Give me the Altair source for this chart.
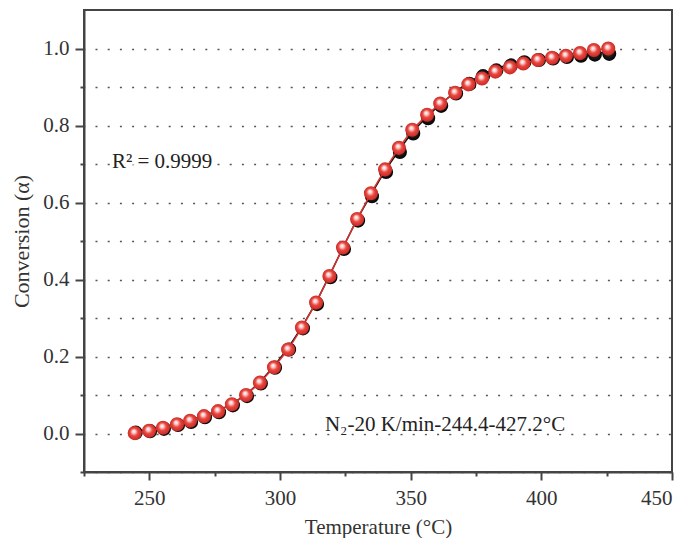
import altair as alt
import pandas as pd

# Temperature (°C)
temperature = [244.4, 249.9, 255.2, 260.6, 265.6, 270.9, 276.3, 281.6, 287.0, 292.3,
               297.7, 303.1, 308.4, 313.8, 318.9, 324.1, 329.5, 334.8, 340.2, 345.5,
               350.6, 356.3, 361.3, 367.0, 372.1, 377.3, 382.4, 388.0, 393.1, 398.7,
               404.1, 409.4, 414.8, 420.1, 425.6]
# experimental conversion (black spheres)
alpha_exp = [0.006, 0.010, 0.016, 0.026, 0.034, 0.046, 0.059, 0.077, 0.101, 0.134,
             0.175, 0.222, 0.277, 0.340, 0.410, 0.483, 0.557, 0.620, 0.683, 0.735,
             0.783, 0.823, 0.855, 0.887, 0.912, 0.932, 0.947, 0.960, 0.968, 0.974,
             0.978, 0.982, 0.985, 0.988, 0.990]
# fitted conversion (red spheres)
alpha_fit = [0.001, 0.007, 0.015, 0.024, 0.033, 0.045, 0.058, 0.076, 0.100, 0.132,
             0.172, 0.218, 0.275, 0.340, 0.409, 0.483, 0.557, 0.624, 0.686, 0.742,
             0.789, 0.828, 0.857, 0.885, 0.907, 0.922, 0.940, 0.951, 0.961, 0.970,
             0.976, 0.981, 0.988, 0.996, 1.000]

x_major = [250, 300, 350, 400, 450]
x_minor = [225, 275, 325, 375, 425]
y_major = [0.0, 0.2, 0.4, 0.6, 0.8, 1.0]
y_minor = [-0.1, 0.1, 0.3, 0.5, 0.7, 0.9]

ann_text = ["R² = 0.9999", "N₂-20 K/min-244.4-427.2°C"]
ann_x = [235.7, 317.2]
ann_y = [0.705, 0.023]

FONT = "Liberation Serif"
AX = "#444444"
FS = 21

df = pd.DataFrame({"T": temperature, "exp": alpha_exp, "fit": alpha_fit})
ann = pd.DataFrame({"x": ann_x, "y": ann_y, "t": ann_text})

xs = alt.Scale(domain=[225, 450], nice=False, zero=False)
ys = alt.Scale(domain=[-0.1, 1.1], nice=False, zero=False)

common_axis = dict(domainColor=AX, domainWidth=2, tickColor=AX, tickWidth=2,
                   labelFont=FONT, labelFontSize=FS, labelColor="#333333",
                   titleFont=FONT, titleColor="#333333",
                   titleFontWeight="normal", gridColor="#555555", gridWidth=1.6,
                   gridDash=[2, 10.2], gridDashOffset=1.2)

x_axis_major = alt.Axis(values=x_major, orient="bottom", tickSize=8, labelPadding=7,
                        title="Temperature (°C)", titlePadding=8, titleFontSize=FS,
                        grid=False, format="d", **common_axis)
y_axis_major = alt.Axis(values=y_major, orient="left", tickSize=9, labelPadding=6,
                        title="Conversion (α)", titlePadding=9, titleFontSize=22,
                        grid=True, format=".1f", **common_axis)
x_axis_minor = alt.Axis(values=x_minor, orient="bottom", tickSize=4, labels=False,
                        title=None, grid=False, domain=False, **common_axis)
y_axis_minor = alt.Axis(values=y_minor, orient="left", tickSize=4, labels=False,
                        title=None, grid=True, domain=False, **common_axis)

red_grad = alt.RadialGradient(
    gradient="radial", x1=0.42, y1=0.36, r1=0.0, x2=0.5, y2=0.5, r2=0.55,
    stops=[alt.GradientStop(offset=0.0, color="#ffffff"),
           alt.GradientStop(offset=0.22, color="#fbd0cf"),
           alt.GradientStop(offset=0.5, color="#ea463f"),
           alt.GradientStop(offset=1.0, color="#c0261f")])
black_grad = alt.RadialGradient(
    gradient="radial", x1=0.42, y1=0.36, r1=0.0, x2=0.5, y2=0.5, r2=0.55,
    stops=[alt.GradientStop(offset=0.0, color="#888888"),
           alt.GradientStop(offset=0.4, color="#222222"),
           alt.GradientStop(offset=1.0, color="#000000")])

base = alt.Chart(df)

black_line = base.mark_line(color="#111111", strokeWidth=1.5).encode(
    x=alt.X("T:Q", scale=xs, axis=x_axis_major),
    y=alt.Y("exp:Q", scale=ys, axis=y_axis_major))
black_pts = base.mark_circle(fill=black_grad, opacity=1, size=200, strokeWidth=0,
                             xOffset=1, yOffset=1.5).encode(
    x=alt.X("T:Q", scale=xs, axis=x_axis_minor),
    y=alt.Y("exp:Q", scale=ys, axis=y_axis_minor))
red_line = base.mark_line(color="#d8322c", strokeWidth=1.5).encode(
    x=alt.X("T:Q", scale=xs, axis=None),
    y=alt.Y("fit:Q", scale=ys, axis=None))
red_pts = base.mark_circle(fill=red_grad, opacity=1, size=200, strokeWidth=0).encode(
    x=alt.X("T:Q", scale=xs, axis=None),
    y=alt.Y("fit:Q", scale=ys, axis=None))
text_enc = dict(x=alt.X("x:Q", scale=xs, axis=None),
                y=alt.Y("y:Q", scale=ys, axis=None),
                text="t:N")
halo = alt.Chart(ann).mark_text(font=FONT, fontSize=FS, color="white", stroke="white",
                                strokeWidth=5, align="left",
                                baseline="middle").encode(**text_enc)
texts = alt.Chart(ann).mark_text(font=FONT, fontSize=FS, color="#222222",
                                 align="left", baseline="middle").encode(**text_enc)

chart = alt.layer(black_line, black_pts, red_line, red_pts, halo, texts).resolve_axis(
    x="independent", y="independent"
).properties(
    width=588, height=462,
    autosize=alt.AutoSizeParams(type="none"),
    padding={"left": 76, "top": 2, "right": 8, "bottom": 66},
).configure_view(stroke=AX, strokeWidth=2)

chart.save("out.html", embed_options={"renderer": "svg", "actions": False})
